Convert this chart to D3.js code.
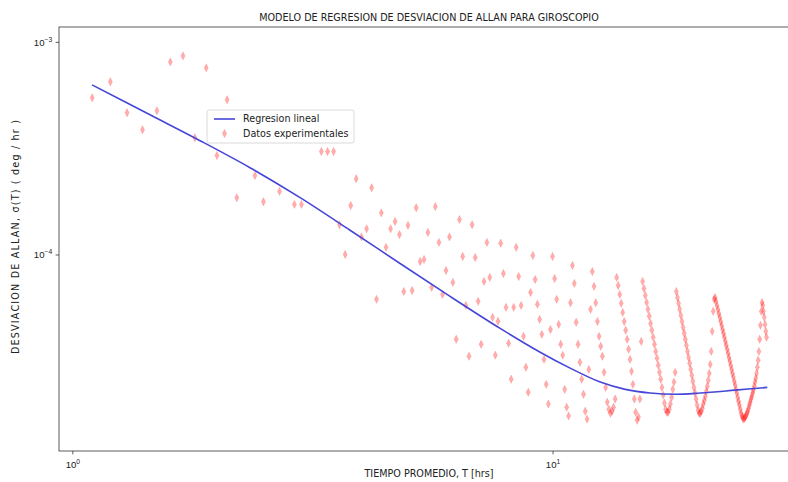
<!DOCTYPE html>
<html>
<head>
<meta charset="utf-8">
<script src="https://cdn.jsdelivr.net/npm/d3@7"></script>
<style>
  html, body { margin: 0; padding: 0; background: #fff; }
  svg { display: block; font-family: "DejaVu Sans", sans-serif; }
</style>
</head>
<body>
<svg id="chart" width="788" height="482"></svg>
<script>
// ── Texts ─────────────────────────────────────────────────────────────────────
const titulo    = 'MODELO DE REGRESION DE DESVIACION DE ALLAN PARA GIROSCOPIO';
const etiquetaX = 'TIEMPO PROMEDIO, T [hrs]';
const etiquetaY = 'DESVIACION DE ALLAN, σ(T) ( deg / hr )';
const leyenda   = ['Regresion lineal', 'Datos experimentales'];

// ── Data: [tau (hr), sigma (deg/hr)] ──────────────────────────────────────────
const datosExp = [
  [1.1, 5.46e-4], [1.2, 6.49e-4], [1.3, 4.64e-4], [1.4, 3.86e-4], [1.5, 4.74e-4],
  [1.6, 8.05e-4], [1.7, 8.59e-4], [1.8, 3.54e-4], [1.9, 7.55e-4], [2.0, 2.92e-4],
  [2.1, 5.34e-4], [2.2, 1.85e-4], [2.4, 2.35e-4], [2.5, 1.77e-4], [2.7, 1.98e-4],
  [2.9, 1.72e-4], [3.0, 1.72e-4], [3.3, 3.05e-4], [3.4, 3.05e-4], [3.5, 3.05e-4],
  [3.6, 1.38e-4], [3.7, 1.00e-4], [3.8, 1.70e-4], [3.9, 2.27e-4], [4.0, 1.21e-4],
  [4.1, 1.32e-4], [4.2, 2.06e-4], [4.3, 6.15e-5], [4.4, 1.57e-4], [4.5, 1.08e-4],
  [4.6, 1.32e-4], [4.7, 1.43e-4], [4.8, 1.24e-4], [4.9, 6.70e-5], [5.0, 1.37e-4],
  [5.1, 6.77e-5], [5.2, 1.66e-4], [5.3, 9.27e-5], [5.4, 9.48e-5], [5.5, 1.27e-4],
  [5.6, 7.00e-5], [5.7, 1.68e-4], [5.8, 1.14e-4], [5.9, 6.49e-5], [6.0, 8.41e-5],
  [6.1, 1.21e-4], [6.2, 7.39e-5], [6.3, 3.99e-5], [6.4, 1.46e-4], [6.5, 9.79e-5],
  [6.6, 5.76e-5], [6.7, 3.32e-5], [6.8, 1.38e-4], [6.9, 9.68e-5], [7.0, 6.02e-5],
  [7.1, 3.78e-5], [7.2, 7.47e-5], [7.3, 1.14e-4], [7.4, 7.80e-5], [7.5, 5.06e-5],
  [7.6, 3.36e-5], [7.7, 4.85e-5],
  // middle columns
  [7.8, 1.13e-4], [7.9, 8.14e-5], [8.0, 5.64e-5], [8.1, 3.82e-5], [8.2, 2.59e-5],
  [8.3, 5.64e-5], [8.4, 1.08e-4], [8.5, 7.88e-5], [8.6, 5.76e-5], [8.7, 4.12e-5],
  [8.8, 2.95e-5], [8.9, 2.25e-5], [9.0, 6.62e-5], [9.1, 9.89e-5], [9.2, 7.63e-5],
  [9.3, 5.83e-5], [9.4, 4.95e-5], [9.5, 4.21e-5], [9.6, 3.21e-5], [9.7, 2.45e-5],
  [9.8, 1.98e-5], [9.9, 4.44e-5], [10.0, 9.79e-5], [10.1, 7.71e-5], [10.2, 6.15e-5],
  [10.3, 4.69e-5], [10.4, 3.78e-5], [10.5, 3.36e-5], [10.6, 2.32e-5], [10.7, 1.91e-5],
  [10.8, 1.74e-5], [10.9, 5.93e-5], [11.0, 8.88e-5], [11.1, 7.31e-5], [11.2, 4.80e-5],
  [11.3, 3.78e-5], [11.4, 3.11e-5], [11.5, 2.59e-5], [11.6, 2.20e-5], [11.7, 1.83e-5],
  [11.8, 1.68e-5], [11.9, 2.88e-5], [12.0, 5.52e-5], [12.1, 8.31e-5], [12.2, 7.08e-5],
  [12.3, 5.93e-5], [12.4, 4.84e-5], [12.5, 4.12e-5], [12.6, 3.70e-5], [12.7, 3.32e-5],
  [12.8, 2.79e-5], [12.9, 2.37e-5], [13.0, 2.02e-5], [13.1, 1.87e-5], [13.2, 1.79e-5],
  [13.3, 1.83e-5], [13.4, 1.91e-5], [13.5, 2.09e-5],
  // strand A
  [13.6, 7.80e-5], [13.7, 7.15e-5], [13.8, 6.49e-5], [13.9, 5.89e-5], [14.0, 5.34e-5],
  [14.1, 4.84e-5], [14.2, 4.40e-5], [14.3, 3.99e-5], [14.4, 3.58e-5], [14.5, 3.21e-5],
  [14.6, 2.82e-5], [14.7, 2.45e-5], [14.8, 2.09e-5], [14.9, 1.81e-5], [15.0, 1.66e-5],
  [15.1, 1.72e-5], [15.2, 2.09e-5], [15.3, 3.90e-5],
  // strand B
  [15.4, 7.47e-5], [15.5, 6.92e-5], [15.6, 6.42e-5], [15.7, 5.95e-5], [15.8, 5.52e-5],
  [15.9, 5.12e-5], [16.0, 4.74e-5], [16.1, 4.40e-5], [16.2, 4.08e-5], [16.3, 3.78e-5],
  [16.4, 3.50e-5], [16.5, 3.25e-5], [16.6, 3.01e-5], [16.7, 2.79e-5], [16.8, 2.59e-5],
  [16.9, 2.37e-5], [17.0, 2.18e-5], [17.1, 2.00e-5], [17.2, 1.87e-5], [17.3, 1.81e-5],
  [17.4, 1.81e-5], [17.5, 1.87e-5], [17.6, 1.98e-5], [17.7, 2.13e-5], [17.8, 2.32e-5],
  [17.9, 2.51e-5], [18.0, 2.79e-5],
  // strand C
  [18.1, 6.70e-5], [18.2, 6.28e-5], [18.3, 5.89e-5], [18.4, 5.52e-5], [18.5, 5.17e-5],
  [18.6, 4.84e-5], [18.7, 4.54e-5], [18.8, 4.26e-5], [18.9, 3.99e-5], [19.0, 3.74e-5],
  [19.1, 3.50e-5], [19.2, 3.28e-5], [19.3, 3.08e-5], [19.4, 2.88e-5], [19.5, 2.70e-5],
  [19.6, 2.53e-5], [19.7, 2.37e-5], [19.8, 2.23e-5], [19.9, 2.09e-5], [20.0, 1.96e-5],
  [20.1, 1.85e-5], [20.2, 1.79e-5], [20.3, 1.79e-5], [20.4, 1.83e-5], [20.5, 1.89e-5],
  [20.6, 1.98e-5], [20.7, 2.06e-5], [20.8, 2.15e-5], [20.9, 2.27e-5], [21.0, 2.40e-5],
  [21.1, 2.56e-5], [21.2, 2.76e-5], [21.3, 3.04e-5], [21.4, 3.50e-5], [21.5, 4.35e-5],
  [21.6, 5.40e-5], [21.7, 6.15e-5],
  // strand D and last rise
  [21.8, 6.28e-5], [21.9, 6.02e-5], [22.0, 5.76e-5], [22.1, 5.52e-5], [22.2, 5.28e-5],
  [22.3, 5.06e-5], [22.4, 4.84e-5], [22.5, 4.64e-5], [22.6, 4.44e-5], [22.7, 4.26e-5],
  [22.8, 4.08e-5], [22.9, 3.90e-5], [23.0, 3.74e-5], [23.1, 3.58e-5], [23.2, 3.43e-5],
  [23.3, 3.28e-5], [23.4, 3.15e-5], [23.5, 3.01e-5], [23.6, 2.88e-5], [23.7, 2.76e-5],
  [23.8, 2.65e-5], [23.9, 2.53e-5], [24.0, 2.43e-5], [24.1, 2.32e-5], [24.2, 2.23e-5],
  [24.3, 2.13e-5], [24.4, 2.04e-5], [24.5, 1.96e-5], [24.6, 1.87e-5], [24.7, 1.79e-5],
  [24.8, 1.74e-5], [24.9, 1.70e-5], [25.0, 1.68e-5], [25.1, 1.70e-5], [25.2, 1.72e-5],
  [25.3, 1.75e-5], [25.4, 1.79e-5], [25.5, 1.83e-5], [25.6, 1.89e-5], [25.7, 1.96e-5],
  [25.8, 2.02e-5], [25.9, 2.09e-5], [26.0, 2.15e-5], [26.1, 2.23e-5], [26.2, 2.30e-5],
  [26.3, 2.40e-5], [26.4, 2.51e-5], [26.5, 2.62e-5], [26.6, 2.76e-5], [26.7, 2.95e-5],
  [26.8, 3.18e-5], [26.9, 3.50e-5], [27.0, 3.99e-5], [27.1, 4.64e-5], [27.2, 5.40e-5],
  [27.3, 5.95e-5], [27.4, 5.76e-5], [27.5, 5.40e-5], [27.6, 5.06e-5], [27.7, 4.69e-5],
  [27.8, 4.35e-5], [27.9, 4.08e-5]
];

// regression curve
const ajusteTau   = [1.099, 1.451, 1.845, 2.344, 2.981, 3.787, 4.814, 6.118, 7.778,
                     9.423, 10.88, 12.57, 14.17, 15.97, 18.01, 20.30, 24.01, 28.0];
const ajusteSigma = [6.28e-4, 4.54e-4, 3.43e-4, 2.56e-4, 1.85e-4, 1.30e-4, 9.07e-5, 6.35e-5, 4.49e-5,
                     3.47e-5, 2.92e-5, 2.51e-5, 2.32e-5, 2.23e-5, 2.20e-5, 2.23e-5, 2.30e-5, 2.37e-5];

// ticks
const xMayores = [1, 10];
const xExpon   = ['0', '1'];
const xMenores = [2, 3, 4, 5, 6, 7, 8, 9, 20, 30];
const yMayores = [1e-4, 1e-3];
const yExpon   = ['\u22124', '\u22123'];
const yMenores = [2e-5, 3e-5, 4e-5, 5e-5, 6e-5, 7e-5, 8e-5, 9e-5,
                  2e-4, 3e-4, 4e-4, 5e-4, 6e-4, 7e-4, 8e-4, 9e-4];

// ── Layout ────────────────────────────────────────────────────────────────────
const PLOT = { left: 59, right: 799, top: 27, bottom: 451 };
const FONT = 9.6;
const ROJO = '#ff0000';
const AZUL = '#4646d8';

const svg = d3.select('#chart');

const x = d3.scaleLog().domain([0.938, 32.6]).range([PLOT.left, PLOT.right]);
const y = d3.scaleLog().domain([1.19e-5, 1.175e-3]).range([PLOT.bottom, PLOT.top]);

svg.append('clipPath').attr('id', 'clip')
  .append('rect')
  .attr('x', PLOT.left).attr('y', PLOT.top)
  .attr('width', PLOT.right - PLOT.left).attr('height', PLOT.bottom - PLOT.top);

const plot = svg.append('g').attr('clip-path', 'url(#clip)');

// ── Points (thin diamonds) ────────────────────────────────────────────────────
const diamante = 'M0,-4.2L2.1,0L0,4.2L-2.1,0Z';

plot.selectAll('.pt')
  .data(datosExp)
  .join('path')
  .attr('class', 'pt')
  .attr('d', diamante)
  .attr('transform', d => `translate(${x(d[0])},${y(d[1])})`)
  .attr('fill', ROJO)
  .attr('fill-opacity', 0.32)
  .attr('stroke', ROJO)
  .attr('stroke-opacity', 0.18)
  .attr('stroke-width', 0.6);

// ── Regression line ───────────────────────────────────────────────────────────
const linea = d3.line()
  .x((d, i) => x(ajusteTau[i]))
  .y(d => y(d))
  .curve(d3.curveCatmullRom.alpha(0.5));

plot.append('path')
  .datum(ajusteSigma)
  .attr('d', linea)
  .attr('fill', 'none')
  .attr('stroke', AZUL)
  .attr('stroke-width', 1.6);

// ── Axes ──────────────────────────────────────────────────────────────────────
function supLabel(sel, exps) {
  sel.each(function (d, i) {
    const t = d3.select(this).text(null);
    t.append('tspan').text('10');
    t.append('tspan').attr('dy', -4.3).attr('font-size', FONT * 0.7).text(exps[i]);
  });
}

const gx = svg.append('g').attr('transform', `translate(0,${PLOT.bottom})`);
gx.call(d3.axisBottom(x).tickValues(xMenores).tickSize(2).tickFormat(''));
gx.call(d3.axisBottom(x).tickValues(xMayores).tickSize(3.4).tickPadding(3.4).tickFormat(''));
gx.selectAll('.domain').remove();
gx.selectAll('.tick').filter(d => xMayores.includes(d)).select('text')
  .attr('font-size', FONT).attr('fill', '#222').attr('dy', '1.1em')
  .call(supLabel, xExpon);

const gy = svg.append('g').attr('transform', `translate(${PLOT.left},0)`);
gy.call(d3.axisLeft(y).tickValues(yMenores).tickSize(2).tickFormat(''));
gy.call(d3.axisLeft(y).tickValues(yMayores).tickSize(3.4).tickPadding(3.4).tickFormat(''));
gy.selectAll('.domain').remove();
gy.selectAll('.tick').filter(d => yMayores.includes(d)).select('text')
  .attr('font-size', FONT).attr('fill', '#222').attr('dy', '0.36em')
  .call(supLabel, yExpon);

svg.selectAll('.tick line').attr('stroke', '#333').attr('stroke-width', 0.8);

// spines
svg.append('rect')
  .attr('x', PLOT.left).attr('y', PLOT.top)
  .attr('width', PLOT.right - PLOT.left).attr('height', PLOT.bottom - PLOT.top)
  .attr('fill', 'none').attr('stroke', '#333').attr('stroke-width', 0.8);

// ── Titles ────────────────────────────────────────────────────────────────────
svg.append('text')
  .attr('x', (PLOT.left + PLOT.right) / 2).attr('y', 20.5)
  .attr('text-anchor', 'middle').attr('font-size', FONT).attr('fill', '#222')
  .text(titulo);

svg.append('text')
  .attr('x', (PLOT.left + PLOT.right) / 2).attr('y', 477)
  .attr('text-anchor', 'middle').attr('font-size', FONT).attr('fill', '#222')
  .text(etiquetaX);

svg.append('text')
  .attr('transform', `translate(19,237) rotate(-90)`)
  .attr('text-anchor', 'middle').attr('font-size', FONT).attr('fill', '#222')
  .attr('textLength', 234).attr('lengthAdjust', 'spacing')
  .text(etiquetaY);

// ── Legend ────────────────────────────────────────────────────────────────────
const leg = svg.append('g').attr('transform', 'translate(207,110)');

leg.append('rect')
  .attr('width', 147).attr('height', 33).attr('rx', 2)
  .attr('fill', '#fff').attr('fill-opacity', 0.8)
  .attr('stroke', '#d0d0d0').attr('stroke-width', 0.8);

leg.append('line')
  .attr('x1', 7).attr('x2', 28).attr('y1', 9).attr('y2', 9)
  .attr('stroke', AZUL).attr('stroke-width', 1.6);

leg.append('path')
  .attr('d', diamante)
  .attr('transform', 'translate(17.5,23.5)')
  .attr('fill', ROJO).attr('fill-opacity', 0.32)
  .attr('stroke', ROJO).attr('stroke-opacity', 0.18).attr('stroke-width', 0.6);

leg.selectAll('.leg-text')
  .data(leyenda)
  .join('text')
  .attr('class', 'leg-text')
  .attr('x', 36)
  .attr('y', (d, i) => 12.4 + i * 14.5)
  .attr('font-size', FONT).attr('fill', '#222')
  .text(d => d);
</script>
</body>
</html>
